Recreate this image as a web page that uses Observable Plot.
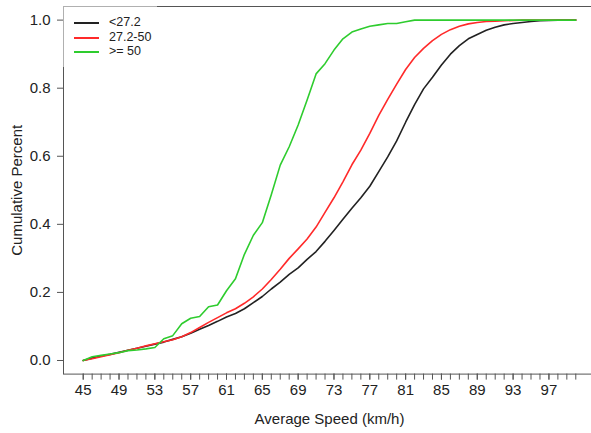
<!DOCTYPE html>
<html>
<head>
<meta charset="utf-8">
<script src="https://cdn.jsdelivr.net/npm/d3@7"></script>
<script src="https://cdn.jsdelivr.net/npm/@observablehq/plot@0.6"></script>
<style>
  html, body { margin: 0; padding: 0; background: #fff; overflow: hidden; }
  #wrap { position: relative; width: 595px; height: 433px; font-family: "Liberation Sans", Arial, sans-serif; }
  #legend { position: absolute; left: 63px; top: 6px; width: 94px; height: 61px; background: #fff; box-sizing: border-box; border-left: 1px solid #b0b0b0; border-top: 1px solid #b0b0b0; }
  .item { position: absolute; left: 0; height: 14px; font-size: 12.5px; color: #222; }
  .item .sw { position: absolute; left: 10px; top: 7px; width: 25px; height: 2px; }
  .item .lb { position: absolute; left: 45px; top: 0; white-space: nowrap; line-height: 14px; }
</style>
</head>
<body>
<div id="wrap"><div id="legend"></div></div>
<script>
const speeds = [45,46,47,48,49,50,51,52,53,54,55,56,57,58,59,60,61,62,63,64,65,66,67,68,69,70,71,72,73,74,75,76,77,78,79,80,81,82,83,84,85,86,87,88,89,90,91,92,93,94,95,96,97,98,99,100];

const groups = ["<27.2", "27.2-50", ">= 50"];
const colors = ["#222222", "#ff2a2a", "#2ecc2e"];

const cumLow = [0,0.007,0.013,0.018,0.024,0.030,0.036,0.042,0.048,0.054,0.062,0.070,0.080,0.092,0.103,0.115,0.128,0.138,0.152,0.170,0.188,0.210,0.230,0.253,0.272,0.297,0.320,0.350,0.382,0.415,0.447,0.478,0.512,0.555,0.598,0.645,0.700,0.752,0.798,0.832,0.868,0.900,0.925,0.945,0.958,0.970,0.979,0.986,0.990,0.993,0.996,0.998,0.999,1,1,1];

const cumMid = [0,0.005,0.011,0.017,0.023,0.030,0.036,0.043,0.049,0.055,0.061,0.070,0.082,0.097,0.112,0.126,0.140,0.152,0.168,0.187,0.210,0.238,0.268,0.300,0.328,0.357,0.392,0.435,0.478,0.525,0.575,0.618,0.667,0.720,0.767,0.812,0.855,0.890,0.917,0.940,0.958,0.972,0.982,0.989,0.993,0.996,0.997,0.998,0.999,1,1,1,1,1,1,1];

const cumHigh = [0,0.011,0.015,0.019,0.023,0.029,0.031,0.034,0.038,0.064,0.073,0.108,0.124,0.129,0.158,0.163,0.205,0.240,0.312,0.368,0.405,0.487,0.574,0.628,0.692,0.765,0.842,0.872,0.912,0.945,0.965,0.974,0.982,0.986,0.990,0.990,0.995,1,1,1,1,1,1,1,1,1,1,1,1,1,1,1,1,1,1,1];

const xTickLabels = [45,49,53,57,61,65,69,73,77,81,85,89,93,97];
const yTicks = [0,0.2,0.4,0.6,0.8,1.0];

const series = [cumLow, cumMid, cumHigh];
const rows = [];
series.forEach((vals, i) => vals.forEach((v, j) => rows.push({speed: speeds[j], p: v, group: groups[i]})));

const font = '"Liberation Sans", Arial, sans-serif';
const axisColor = "#555";

const chart = Plot.plot({
  width: 595,
  height: 433,
  marginLeft: 63,
  marginRight: 0,
  marginTop: 6,
  marginBottom: 59.4,
  style: {fontFamily: font, fontSize: "15px", color: "#222", background: "#fff"},
  x: {domain: [42.8, 102.2]},
  y: {domain: [-0.04, 1.04]},
  color: {domain: groups, range: colors},
  marks: [
    Plot.frame({stroke: axisColor}),
    Plot.axisX({ticks: speeds, tickFormat: () => "", tickSize: 6, stroke: axisColor, label: null}),
    Plot.axisX({ticks: xTickLabels, tickFormat: d => String(d), tickSize: 6, tickPadding: 4, stroke: axisColor,
      label: "Average Speed (km/h)", labelAnchor: "center", labelArrow: "none", labelOffset: 50}),
    Plot.axisY({ticks: yTicks, tickFormat: d3.format(".1f"), tickSize: 6, tickPadding: 7, stroke: axisColor,
      label: "Cumulative Percent", labelAnchor: "center", labelArrow: "none", labelOffset: 52}),
    Plot.line(rows, {x: "speed", y: "p", z: "group", stroke: "group", strokeWidth: 1.6})
  ]
});
document.getElementById("wrap").insertBefore(chart, document.getElementById("legend"));

const legend = document.getElementById("legend");
groups.forEach((g, i) => {
  const it = document.createElement("div");
  it.className = "item";
  it.style.top = (8 + i * 14.5) + "px";
  const sw = document.createElement("span");
  sw.className = "sw";
  sw.style.background = colors[i];
  const lb = document.createElement("span");
  lb.className = "lb";
  lb.textContent = g;
  it.appendChild(sw); it.appendChild(lb);
  legend.appendChild(it);
});
</script>
</body>
</html>
